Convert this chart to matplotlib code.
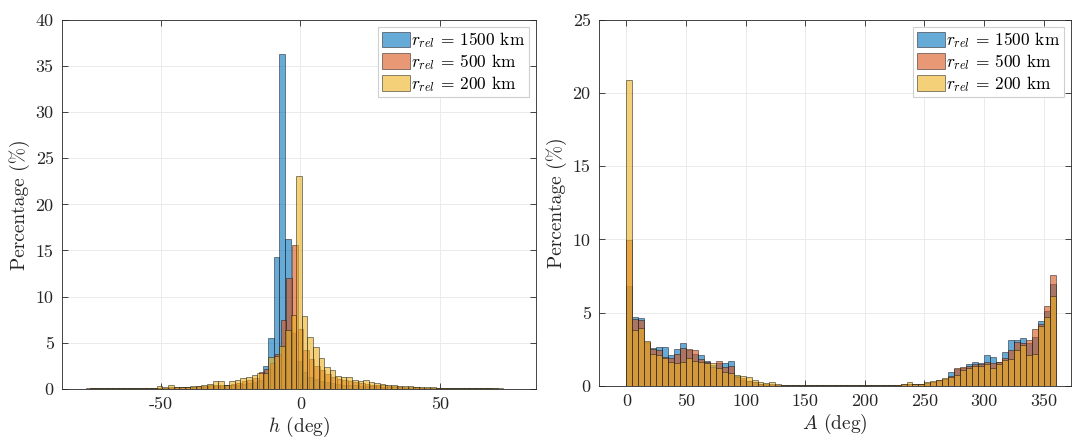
import matplotlib
matplotlib.use("Agg")
import matplotlib.pyplot as plt
import numpy as np
from matplotlib.colors import to_rgba

plt.rcParams['font.family'] = 'serif'
plt.rcParams['font.serif'] = ['cmr10']
plt.rcParams['mathtext.fontset'] = 'cm'
plt.rcParams['axes.unicode_minus'] = False
plt.rcParams['axes.formatter.use_mathtext'] = False

# h histogram, 2 deg bins
h_width = 2.0
h_start_blue = -75.5
h_blue = [0.08, 0.05, 0.05, 0.04, 0.05, 0.08, 0.05, 0.08, 0.05, 0.05, 0.08, 0.08,
          0.1, 0.1, 0.1, 0.12, 0.15, 0.15,
          0.15, 0.2, 0.2, 0.25, 0.3, 0.3,
          0.35, 0.4, 0.45, 0.5, 0.6, 0.7,
          0.9, 2.5, 5.5, 14.3, 36.3, 16.2,
          6.0, 3.0, 1.8, 1.3, 1.0, 0.8,
          0.7, 0.6, 0.5, 0.45, 0.4, 0.35,
          0.3, 0.3, 0.25, 0.25, 0.2, 0.2,
          0.15, 0.15, 0.12, 0.1, 0.1, 0.1,
          0.08, 0.08, 0.06, 0.06, 0.05, 0.05,
          0.05, 0.04, 0.04, 0.03, 0.03, 0.03, 0.02, 0.02, 0.02]
h_start_orange = -77.0
h_orange = [0.05, 0.05, 0.08, 0.05, 0.05, 0.05, 0.08, 0.05, 0.08, 0.05, 0.1, 0.1,
            0.1, 0.12, 0.12, 0.15, 0.15, 0.18,
            0.2, 0.22, 0.25, 0.3, 0.35, 0.35,
            0.4, 0.45, 0.55, 0.65, 0.8, 0.95,
            1.2, 1.8, 2.1, 2.8, 3.8, 7.5,
            12.0, 15.6, 6.5, 4.2, 3.2, 2.5,
            2.0, 1.6, 1.3, 1.1, 0.9, 0.8,
            0.7, 0.6, 0.5, 0.45, 0.4, 0.35,
            0.3, 0.25, 0.22, 0.2, 0.18, 0.15,
            0.12, 0.12, 0.1, 0.1, 0.08, 0.08,
            0.06, 0.05, 0.05, 0.05, 0.04, 0.04, 0.03, 0.03, 0.02, 0.02, 0.02]
h_start_yellow = -75.5
h_yellow = [0.03, 0.03, 0.04, 0.03, 0.04, 0.05, 0.05, 0.04, 0.05, 0.06, 0.08, 0.08,
            0.3, 0.15, 0.35, 0.2, 0.2, 0.22,
            0.25, 0.3, 0.35, 0.5, 0.85, 0.85,
            0.4, 0.8, 0.9, 1.2, 1.3, 1.5,
            1.7, 1.7, 3.4, 3.5, 4.6, 6.4,
            8.0, 23.1, 7.9, 5.6, 4.5, 3.3,
            2.4, 2.0, 1.4, 1.3, 1.3, 0.9,
            0.8, 0.9, 0.7, 0.6, 0.5, 0.45,
            0.4, 0.3, 0.3, 0.25, 0.2, 0.2,
            0.15, 0.15, 0.12, 0.1, 0.1, 0.08,
            0.08, 0.06, 0.05, 0.05, 0.04, 0.04, 0.03, 0.03, 0.02]

# A histogram, 5 deg bins from 0 to 360
A_width = 5.0
A_blue = [6.8, 4.72, 4.65, 2.94, 2.55, 2.67, 2.67, 2.1, 2.48, 2.89, 2.44, 2.16,
          2.1, 1.7, 1.41, 1.53, 1.53, 1.7, 0.66, 0.39, 0.3, 0.27, 0.15, 0.08,
          0.08, 0.06, 0.05, 0.05, 0.04, 0.05, 0.04, 0.04, 0.03, 0.04, 0.03, 0.05,
          0.03, 0.03, 0.04, 0.03, 0.05, 0.04, 0.05, 0.06, 0.05, 0.07, 0.08, 0.1,
          0.12, 0.15, 0.2, 0.25, 0.35, 0.45, 0.96, 1.15, 1.2, 1.45, 1.6, 1.57,
          2.1, 1.95, 1.65, 2.3, 3.1, 3.15, 3.25, 2.9, 3.3, 4.45, 5.1, 6.95]
A_orange = [9.95, 4.53, 4.49, 3.0, 2.48, 2.44, 1.94, 1.87, 2.16, 2.55, 2.53, 2.44,
            1.8, 1.64, 1.3, 1.69, 1.3, 1.34, 0.62, 0.5, 0.35, 0.27, 0.15, 0.1,
            0.1, 0.07, 0.06, 0.05, 0.05, 0.04, 0.05, 0.04, 0.04, 0.03, 0.04, 0.05,
            0.04, 0.03, 0.04, 0.05, 0.04, 0.05, 0.05, 0.06, 0.06, 0.08, 0.09, 0.1,
            0.12, 0.15, 0.2, 0.27, 0.4, 0.45, 0.66, 1.23, 1.3, 1.35, 1.5, 1.5,
            1.65, 1.55, 1.65, 1.9, 2.45, 3.0, 2.9, 3.1, 3.85, 4.2, 5.44, 7.56]
A_yellow = [20.9, 3.8, 3.96, 3.08, 2.16, 2.1, 1.87, 1.64, 1.53, 1.6, 1.87, 1.7,
            1.64, 1.57, 1.53, 1.18, 0.96, 0.84, 0.73, 0.66, 0.57, 0.39, 0.23, 0.16,
            0.23, 0.1, 0.08, 0.06, 0.05, 0.05, 0.06, 0.04, 0.05, 0.04, 0.03, 0.04,
            0.05, 0.03, 0.04, 0.06, 0.05, 0.04, 0.06, 0.05, 0.06, 0.08, 0.1, 0.23,
            0.12, 0.15, 0.25, 0.3, 0.4, 0.5, 0.6, 0.75, 1.05, 1.2, 1.35, 1.35,
            1.5, 1.2, 1.5, 1.75, 1.85, 2.45, 2.8, 2.1, 2.2, 4.1, 4.7, 6.15]

labels = [r'$r_{rel}\,=\,1500$ km', r'$r_{rel}\,=\,500$ km', r'$r_{rel}\,=\,200$ km']
colors = [(0, 0.447, 0.741), (0.85, 0.325, 0.098), (0.929, 0.694, 0.125)]
axis_col = '#262626'


def draw_hist(ax, start, width, vals, color, label):
    vals = np.asarray(vals)
    left = start + width * np.arange(len(vals))
    ax.bar(left, vals, width=width, align='edge',
           facecolor=to_rgba(color, 0.6), edgecolor=to_rgba('#1a1a1a', 0.6),
           linewidth=0.6, label=label)


def style(ax):
    ax.set_axisbelow(True)
    ax.grid(True, color='#ebebeb', linewidth=0.7)
    ax.tick_params(direction='in', top=True, right=True, length=4,
                   width=0.6, colors=axis_col, labelsize=13, pad=6)
    for s in ax.spines.values():
        s.set_color(axis_col)
        s.set_linewidth(0.6)
    ax.set_ylabel('Percentage (%)', fontsize=14, color=axis_col, labelpad=4)
    leg = ax.legend(loc='upper right', fontsize=12.5, fancybox=False,
                    framealpha=1, edgecolor='#cfcfcf', borderaxespad=0.4,
                    handlelength=1.6, handleheight=1.0, labelspacing=0.1,
                    handletextpad=0.1, borderpad=0.2)
    leg.get_frame().set_linewidth(0.8)


fig = plt.figure(figsize=(10.76, 4.44), dpi=100)
ax1 = fig.add_axes([62 / 1076, 1 - 388.7 / 444, 474 / 1076, 368.7 / 444])
ax2 = fig.add_axes([599 / 1076, 1 - 385.7 / 444, 472 / 1076, 365.7 / 444])

draw_hist(ax1, h_start_blue, h_width, h_blue, colors[0], labels[0])
draw_hist(ax1, h_start_orange, h_width, h_orange, colors[1], labels[1])
draw_hist(ax1, h_start_yellow, h_width, h_yellow, colors[2], labels[2])
ax1.set_xlim(-85.5, 84.5)
ax1.set_ylim(0, 40)
ax1.set_xticks([-50, 0, 50])
ax1.set_yticks(np.arange(0, 41, 5))
ax1.set_xlabel(r'$h$ (deg)', fontsize=14, color=axis_col, labelpad=2)
style(ax1)

draw_hist(ax2, 0, A_width, A_blue, colors[0], labels[0])
draw_hist(ax2, 0, A_width, A_orange, colors[1], labels[1])
draw_hist(ax2, 0, A_width, A_yellow, colors[2], labels[2])
ax2.set_xlim(-23, 373)
ax2.set_ylim(0, 25)
ax2.set_xticks(np.arange(0, 351, 50))
ax2.set_yticks(np.arange(0, 26, 5))
ax2.set_xlabel(r'$A$ (deg)', fontsize=14, color=axis_col, labelpad=2)
style(ax2)

fig.savefig('out.png', dpi=100)
